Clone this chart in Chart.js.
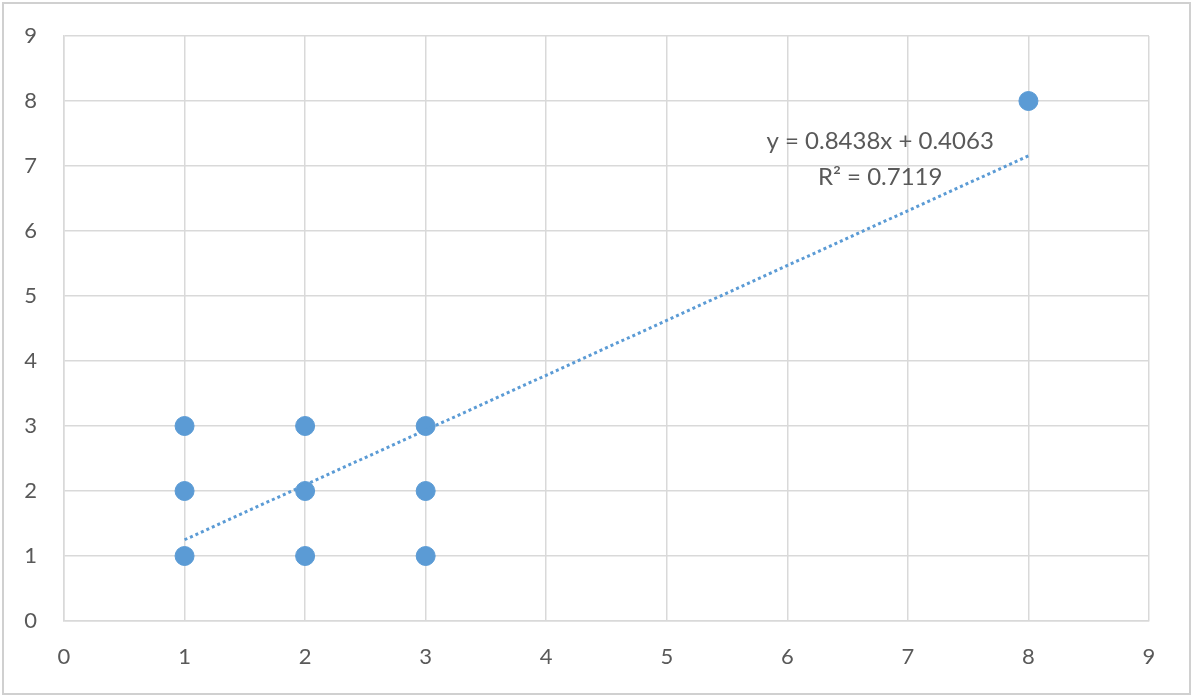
<!DOCTYPE html>
<html>
<head>
<meta charset="utf-8">
<script src="https://cdn.jsdelivr.net/npm/chart.js@4/dist/chart.umd.min.js"></script>
<style>
  html, body { margin: 0; padding: 0; background: #fff; }
  #wrap { width: 1195px; height: 700px; position: relative; }
</style>
</head>
<body>
<div id="wrap"><canvas id="myChart"></canvas></div>
<script>
// scatter points
const xValues = [1, 1, 1, 2, 2, 2, 3, 3, 3, 8];
const yValues = [1, 2, 3, 1, 2, 3, 1, 2, 3, 8];
const axisTicks = [0, 1, 2, 3, 4, 5, 6, 7, 8, 9];
const equationText = "y = 0.8438x + 0.4063";
const rSquaredText = "R\u00b2 = 0.7119";

const blue = "#5B9BD5";
const gridGray = "#d9d9d9";
const textGray = "#595959";

// linear trendline (least squares) from the points
function fitLine(xs, ys) {
  const n = xs.length;
  const mx = xs.reduce((a, b) => a + b, 0) / n;
  const my = ys.reduce((a, b) => a + b, 0) / n;
  let sxy = 0, sxx = 0;
  for (let i = 0; i < n; i++) {
    sxy += (xs[i] - mx) * (ys[i] - my);
    sxx += (xs[i] - mx) * (xs[i] - mx);
  }
  const slope = sxy / sxx;
  return { slope, intercept: my - slope * mx };
}

const fit = fitLine(xValues, yValues);
const xMin = Math.min(...xValues);
const xMax = Math.max(...xValues);
const trendPoints = [xMin, xMax].map((x) => ({ x: x, y: fit.slope * x + fit.intercept }));

// outer frame + equation label
const extras = {
  id: "extras",
  afterDraw(chart) {
    const ctx = chart.ctx;
    const xs = chart.scales.x;
    const ys = chart.scales.y;
    ctx.save();
    ctx.strokeStyle = "#d0d0d0";
    ctx.lineWidth = 2;
    ctx.strokeRect(3, 3, 1187, 691);

    ctx.fillStyle = textGray;
    ctx.font = "24px Lato, 'Liberation Sans', sans-serif";
    ctx.textAlign = "center";
    ctx.textBaseline = "middle";
    const cx = xs.getPixelForValue(6.77);
    ctx.fillText(equationText, cx, ys.getPixelForValue(7.38));
    ctx.fillText(rSquaredText, cx, ys.getPixelForValue(6.83));
    ctx.restore();
  },
};

const ctx = document.getElementById("myChart").getContext("2d");

new Chart(ctx, {
  type: "scatter",
  data: {
    datasets: [
      {
        type: "line",
        label: "Linear trend",
        data: trendPoints,
        borderColor: blue,
        borderWidth: 3,
        borderDash: [3, 3],
        pointRadius: 0,
        fill: false,
        order: 0,
      },
      {
        label: "Data",
        data: xValues.map((x, i) => ({ x: x, y: yValues[i] })),
        backgroundColor: blue,
        borderColor: blue,
        pointRadius: 9.5,
        pointHoverRadius: 9.5,
        order: 1,
      },
    ],
  },
  options: {
    responsive: true,
    maintainAspectRatio: false,
    animation: false,
    layout: { padding: { top: 36, right: 46, left: 0, bottom: 0 } },
    plugins: {
      legend: { display: false },
      tooltip: { enabled: false },
    },
    scales: {
      x: {
        type: "linear",
        min: 0,
        max: 9,
        afterBuildTicks: (axis) => { axis.ticks = axisTicks.map((v) => ({ value: v })); },
        afterFit: (axis) => {
          axis.height = 79;
          axis.paddingLeft = 0;
          axis.paddingRight = 0;
        },
        grid: { color: gridGray, lineWidth: 1.5, drawTicks: false },
        border: { color: gridGray, width: 1.5 },
        ticks: {
          color: textGray,
          padding: 23,
          font: { family: "Lato, 'Liberation Sans', sans-serif", size: 22 },
        },
      },
      y: {
        type: "linear",
        min: 0,
        max: 9,
        afterBuildTicks: (axis) => { axis.ticks = axisTicks.map((v) => ({ value: v })); },
        afterFit: (axis) => {
          axis.width = 64;
          axis.paddingTop = 0;
          axis.paddingBottom = 0;
        },
        grid: { color: gridGray, lineWidth: 1.5, drawTicks: false },
        border: { color: gridGray, width: 1.5 },
        ticks: {
          color: textGray,
          padding: 27,
          font: { family: "Lato, 'Liberation Sans', sans-serif", size: 22 },
        },
      },
    },
  },
  plugins: [extras],
});
</script>
</body>
</html>
